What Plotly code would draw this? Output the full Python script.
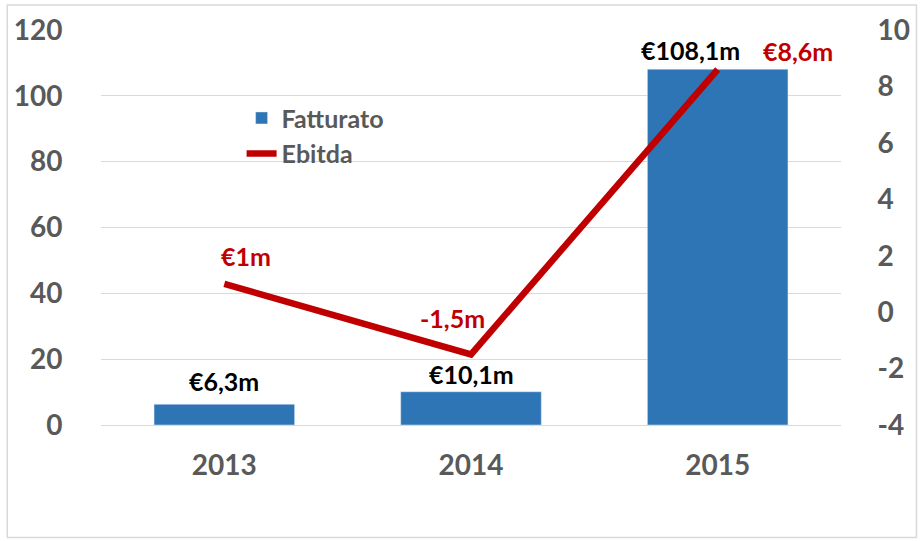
import plotly.graph_objects as go

anni = ['2013', '2014', '2015']
fatturato = [6.3, 10.1, 108.1]
ebitda = [1.0, -1.5, 8.6]
etichette_fatturato = ['€6,3m', '€10,1m', '€108,1m']
etichette_ebitda = ['€1m', '-1,5m', '€8,6m']
tick_ebitda = [-4, -2, 0, 2, 4, 6, 8, 10]
tick_ebitda_testo = ['-4', '-2', '0', '2', '4', '6', '8', '10']

BLU = '#2E75B6'
ROSSO = '#C00000'
GRIGIO = '#595959'
FONT = 'Lato'

pos = list(range(len(anni)))

fig = go.Figure()
fig.add_trace(go.Bar(x=pos, y=fatturato, name='Fatturato', marker_color=BLU, width=0.57))
fig.add_trace(go.Scatter(x=pos, y=ebitda, name='Ebitda', mode='lines',
                         line=dict(color=ROSSO, width=6.5), yaxis='y2'))

# etichette dati (spostamenti in pixel rispetto al punto)
shift_f = [(0, 23), (0, 18), (-27, 19)]
for x, y, t, (dx, dy) in zip(pos, fatturato, etichette_fatturato, shift_f):
    fig.add_annotation(x=x, y=y, xref='x', yref='y', text=t, showarrow=False, xshift=dx, yshift=dy,
                       font=dict(family=FONT, size=25, color='black', weight='bold'))
shift_e = [(22, 28), (-19, 36), (80, 19)]
for x, y, t, (dx, dy) in zip(pos, ebitda, etichette_ebitda, shift_e):
    fig.add_annotation(x=x, y=y, xref='x', yref='y2', text=t, showarrow=False, xshift=dx, yshift=dy,
                       font=dict(family=FONT, size=25, color=ROSSO, weight='bold'))

fig.update_layout(
    width=922, height=541,
    margin=dict(l=101, r=79, t=28, b=116),
    paper_bgcolor='white', plot_bgcolor='white',
    font=dict(family=FONT, color=GRIGIO, weight='bold'),
    legend=dict(x=0.19, y=0.835, xanchor='left', yanchor='top', bgcolor='rgba(0,0,0,0)',
                font=dict(family=FONT, size=25, color=GRIGIO, weight='bold')),
    xaxis=dict(range=[-0.5, 2.5], tickvals=pos, ticktext=anni,
               showgrid=False, showline=False, zeroline=False, ticks='outside',
               ticklen=15, tickcolor='rgba(0,0,0,0)',
               tickfont=dict(family=FONT, size=28, color=GRIGIO, weight='bold')),
    yaxis=dict(range=[0, 120], dtick=20, showgrid=True, gridcolor='#D9D9D9', gridwidth=1.3,
               zeroline=True, zerolinecolor='#D9D9D9', zerolinewidth=1.3,
               ticks='outside', ticklen=32, tickcolor='rgba(0,0,0,0)',
               tickfont=dict(family=FONT, size=28, color=GRIGIO, weight='bold')),
    yaxis2=dict(range=[-4, 10], tickvals=tick_ebitda, ticktext=tick_ebitda_testo,
                overlaying='y', side='right', showgrid=False,
                zeroline=False, ticks='outside', ticklen=30, tickcolor='rgba(0,0,0,0)',
                tickfont=dict(family=FONT, size=28, color=GRIGIO, weight='bold')),
)

# cornice del grafico
fig.add_shape(type='rect', xref='paper', yref='paper', x0=-0.1267, x1=1.102, y0=-0.285, y1=1.063,
              line=dict(color='#D9D9D9', width=1.5), fillcolor='rgba(0,0,0,0)', layer='below')

fig.write_html('out.html', config={'displayModeBar': False},
               post_script="document.body.style.margin='0';")
